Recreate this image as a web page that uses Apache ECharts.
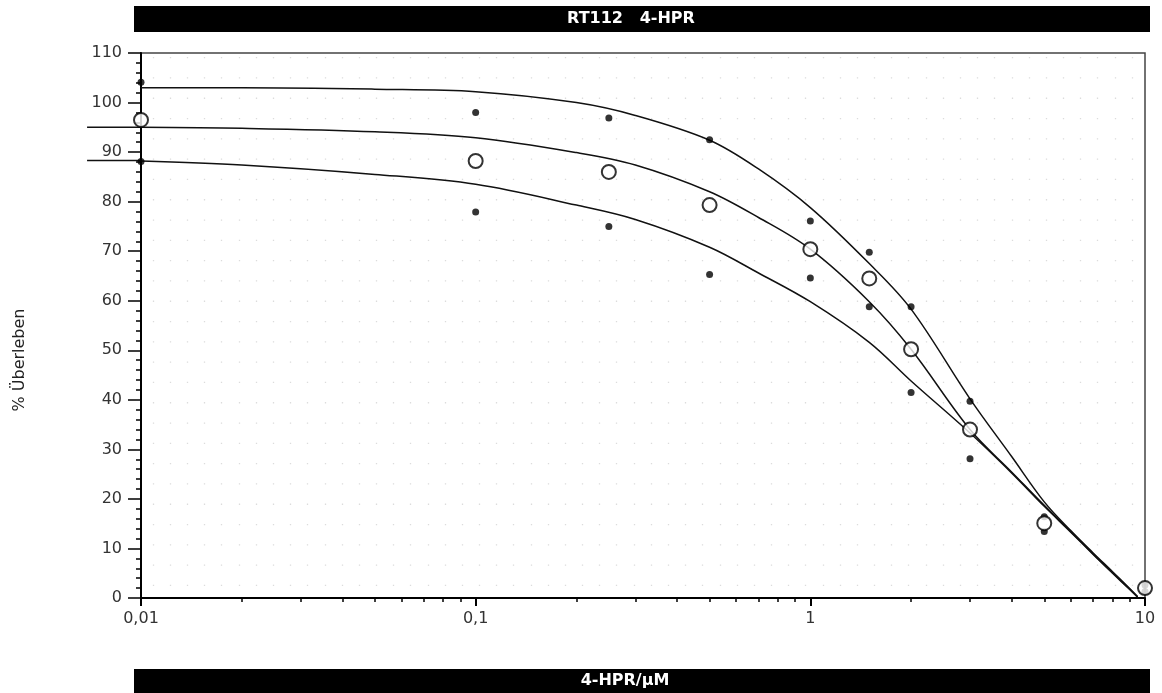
<html>
<head>
<meta charset="utf-8">
<script src="https://cdn.jsdelivr.net/npm/echarts@6/dist/echarts.min.js"></script>
<style>
  html, body { margin: 0; padding: 0; background: #fff; }
  #chart { width: 1162px; height: 693px; }
</style>
<title>RT112 4-HPR</title>
</head>
<body>
<div id="chart"></div>
<script type="text/javascript">
///////////////////////////////////////////////////////////////////////////////
// data
var conc = [0.01, 0.1, 0.25, 0.5, 1, 1.5, 2, 3, 5, 10];          // 4-HPR / uM
var meanVals = [96.5, 88.2, 86.0, 79.3, 70.4, 64.5, 50.2, 34.0, 15.1, 2.0];
var upperVals = [104.1, 98.0, 96.9, 92.5, 76.1, 69.8, 58.8, 39.7, 16.4, 2.6];
var lowerVals = [88.1, 77.9, 75.0, 65.3, 64.6, 58.8, 41.5, 28.1, 13.4, 1.3];

// fitted curves, sampled by eye along x
var fitX = [0.01, 0.02, 0.05, 0.1, 0.2, 0.3, 0.5, 0.7, 1, 1.5, 2, 3, 4, 5, 6, 7, 8, 9, 9.5];
var fitTop = [103.0, 103.0, 102.7, 102.2, 100.0, 97.4, 92.4, 86.6, 78.8, 67.5, 58.3, 40.2, 28.5, 19.4, 13.6, 9.1, 5.3, 1.9, 0.3];
var fitMid = [95.0, 94.8, 94.1, 92.9, 89.9, 87.4, 82.0, 76.8, 70.4, 59.8, 50.2, 34.0, 25.4, 18.7, 13.4, 8.9, 5.1, 1.8, 0.2];
var fitLow = [88.2, 87.4, 85.5, 83.5, 79.3, 76.4, 70.8, 65.6, 59.8, 51.6, 43.8, 33.3, 25.2, 18.5, 13.3, 8.8, 5.0, 1.7, 0.2];

// the fit lines run on a little to the left of the y axis
var extX = 0.0069;
var extVals = [95.0, 88.3];

var xTicksMinor = [0.02, 0.03, 0.04, 0.05, 0.06, 0.07, 0.08, 0.09,
                   0.2, 0.3, 0.4, 0.5, 0.6, 0.7, 0.8, 0.9,
                   2, 3, 4, 5, 6, 7, 8, 9];

var titleText = "RT112   4-HPR";
var xTitle = "4-HPR/\u00b5M";
var yTitle = "% \u00dcberleben";

///////////////////////////////////////////////////////////////////////////////
var font = "'DejaVu Sans', Arial, sans-serif";

function pairs(xs, ys) {
	var out = [];
	for (var i = 0; i < xs.length; i++) {
		if (ys[i] === null) continue;
		out.push([xs[i], ys[i]]);
	}
	return out;
}

function curve(ys) {
	return {
		type: 'line', xAxisIndex: 0, yAxisIndex: 0,
		data: pairs(fitX, ys),
		smooth: 0.35, symbol: 'none', silent: true,
		lineStyle: { color: '#111', width: 1.5 },
		z: 3
	};
}

var dots = pairs(conc, upperVals).concat(pairs(conc, lowerVals));

var option = {
	animation: false,
	backgroundColor: '#fff',
	textStyle: { fontFamily: font },
	grid: [
		{ left: 141, right: 17, top: 53, bottom: 95, show: true, borderColor: '#444', borderWidth: 1.5 },
		{ left: 141, right: 17, top: 53, bottom: 95 },
		{ left: 153, right: 30, top: 57, bottom: 95 }
	],
	xAxis: [
		{
			gridIndex: 0, type: 'log', logBase: 10, min: 0.01, max: 10,
			axisLine: { lineStyle: { color: '#000', width: 2 } },
			axisTick: { length: 8, lineStyle: { color: '#000', width: 2 } },
			axisLabel: {
				margin: 13, fontSize: 16, color: '#333',
				formatter: function (v) { return String(Number(v.toPrecision(3))).replace('.', ','); }
			},
			splitLine: { show: false }
		},
		{
			gridIndex: 1, type: 'log', logBase: 10, min: 0.01, max: 10,
			axisLine: { show: false },
			axisTick: { length: 4, customValues: xTicksMinor, lineStyle: { color: '#000', width: 1.5 } },
			axisLabel: { show: false },
			splitLine: { show: false }
		},
		{
			gridIndex: 2, type: 'value', min: 0, max: 57, interval: 1,
			axisLine: { show: false }, axisTick: { show: false }, axisLabel: { show: false },
			splitLine: { show: true, lineStyle: { color: '#dcdcdc', width: 1.3, type: [1.3, 19] } }
		}
	],
	yAxis: [
		{
			gridIndex: 0, type: 'value', min: 0, max: 110, interval: 10,
			axisLine: { show: true, lineStyle: { color: '#000', width: 2 } },
			axisTick: { show: true, length: 13, lineStyle: { color: '#000', width: 1.5 } },
			minorTick: { show: true, splitNumber: 5, length: 5, lineStyle: { color: '#000', width: 1.5 } },
			axisLabel: { margin: 19, fontSize: 16, color: '#333' },
			splitLine: { show: false }
		},
		{ gridIndex: 1, type: 'value', min: 0, max: 110, show: false },
		{ gridIndex: 2, type: 'value', min: 0, max: 1, show: false }
	],
	series: [
		curve(fitTop),
		curve(fitMid),
		curve(fitLow),
		{
			type: 'scatter', xAxisIndex: 0, yAxisIndex: 0,
			data: dots, symbol: 'circle', symbolSize: 7,
			itemStyle: { color: '#000' }, z: 4
		},
		{
			type: 'scatter', xAxisIndex: 0, yAxisIndex: 0,
			data: pairs(conc, meanVals), symbol: 'circle', symbolSize: 14,
			itemStyle: { color: '#fff', borderColor: '#000', borderWidth: 2 },
			clip: false, z: 5
		}
	],
	graphic: [
		{ type: 'rect', shape: { x: 134, y: 6, width: 1016, height: 26 }, style: { fill: '#000' } },
		{ type: 'text', x: 631, y: 19, style: { text: titleText, fill: '#fff', font: 'bold 16px ' + font, align: 'center', verticalAlign: 'middle' } },
		{ type: 'rect', shape: { x: 134, y: 669, width: 1016, height: 24 }, style: { fill: '#000' } },
		{ type: 'text', x: 625, y: 681, style: { text: xTitle, fill: '#fff', font: 'bold 16px ' + font, align: 'center', verticalAlign: 'middle' } },
		{ type: 'text', x: 20, y: 360, rotation: Math.PI / 2, style: { text: yTitle, fill: '#222', font: '16px ' + font, align: 'center', verticalAlign: 'middle' } }
	]
};

var chart = echarts.init(document.getElementById('chart'), null, { renderer: 'canvas' });
chart.setOption(option);

// left run-on of the fit lines, placed through the chart's own scales
var ext = [];
for (var i = 0; i < extVals.length; i++) {
	var p0 = chart.convertToPixel({ gridIndex: 0 }, [extX, extVals[i]]);
	var p1 = chart.convertToPixel({ gridIndex: 0 }, [0.01, extVals[i]]);
	if (!p0 || !p1 || !isFinite(p0[0]) || !isFinite(p1[0])) continue;
	ext.push({
		type: 'line', z: 3, silent: true,
		shape: { x1: p0[0], y1: p0[1], x2: p1[0], y2: p1[1] },
		style: { stroke: '#111', lineWidth: 1.5 }
	});
}
chart.setOption({ graphic: option.graphic.concat(ext) });
</script>
</body>
</html>
